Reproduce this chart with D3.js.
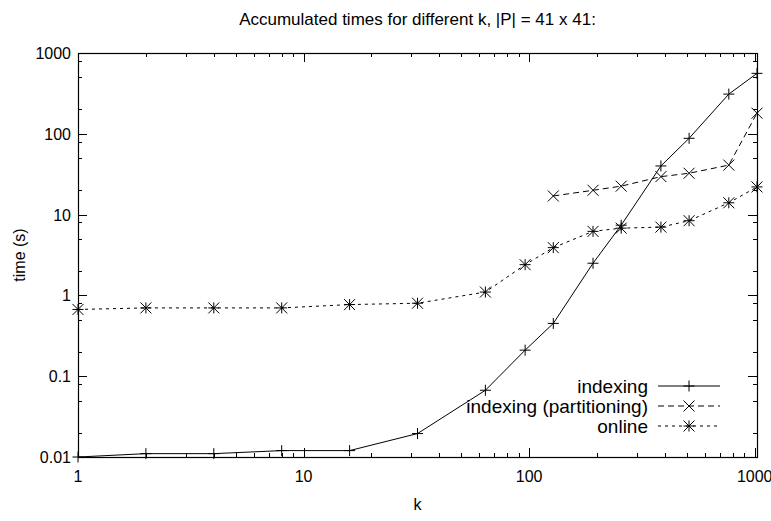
<!DOCTYPE html>
<html>
<head>
<meta charset="utf-8">
<script src="https://cdn.jsdelivr.net/npm/d3@7"></script>
<style>
body { margin: 0; background: #fff; }
text { font-family: "Liberation Sans", Arial, sans-serif; fill: #000; }
</style>
</head>
<body>
<svg id="mainSVG" width="771" height="521"></svg>
<script>
// k values on the x axis
var kAll = [1, 2, 4, 8, 16, 32, 64, 96, 128, 192, 256, 384, 512, 768, 1024];
var kPart = [128, 192, 256, 384, 512, 768, 1024];

// accumulated times (s)
var timeIndexing = [0.01, 0.011, 0.011, 0.012, 0.012, 0.0195, 0.067, 0.21, 0.45, 2.5, 7.4, 40, 88, 310, 560];
var timePartitioning = [17, 20, 22.5, 29.5, 32.5, 41, 180];
var timeOnline = [0.67, 0.70, 0.70, 0.70, 0.77, 0.80, 1.1, 2.4, 3.9, 6.2, 6.8, 7.0, 8.4, 14, 22];

var xTickValues = [1, 10, 100, 1000];
var yTickValues = [0.01, 0.1, 1, 10, 100, 1000];
var yTickLabels = ["0.01", "0.1", "1", "10", "100", "1000"];
var legendNames = ["indexing", "indexing (partitioning)", "online"];

var pLeft = 78, pRight = 757, pTop = 53, pBottom = 457;

var svg = d3.select("#mainSVG");

var x = d3.scaleLog().domain([1, 1024]).range([pLeft, pRight]);
var y = d3.scaleLog().domain([0.01, 1000]).range([pBottom, pTop]);

// minor ticks: 2..9 on x, 2,5,8 on y (as in the original)
var xMinor = [], yMinor = [];
for (var p = 0; p < 4; p++) {
  for (var m = 2; m <= 9; m++) {
    var v = m * Math.pow(10, p);
    if (v < 1024) xMinor.push(v);
  }
}
for (var q = -2; q < 3; q++) {
  [2, 5, 8].forEach(function(m) { yMinor.push(m * Math.pow(10, q)); });
}

var g = svg.append("g");

// bottom / top ticks
g.selectAll(".xmin").data(xMinor).enter().append("path")
  .attr("d", function(d) { var px = Math.round(x(d)) + 0.5;
    return "M" + px + "," + pBottom + "v-4M" + px + "," + pTop + "v4"; })
  .attr("stroke", "#000").attr("stroke-width", 1);
g.selectAll(".xmaj").data(xTickValues).enter().append("path")
  .attr("d", function(d) { var px = Math.round(x(d)) + 0.5;
    return "M" + px + "," + pBottom + "v-9M" + px + "," + pTop + "v9"; })
  .attr("stroke", "#000").attr("stroke-width", 1);

// left / right ticks
g.selectAll(".ymin").data(yMinor).enter().append("path")
  .attr("d", function(d) { var py = Math.round(y(d)) + 0.5;
    return "M" + pLeft + "," + py + "h4M" + pRight + "," + py + "h-4"; })
  .attr("stroke", "#000").attr("stroke-width", 1);
g.selectAll(".ymaj").data(yTickValues).enter().append("path")
  .attr("d", function(d) { var py = Math.round(y(d)) + 0.5;
    return "M" + pLeft + "," + py + "h9M" + pRight + "," + py + "h-9"; })
  .attr("stroke", "#000").attr("stroke-width", 1);

// tick labels
g.selectAll(".xl").data(xTickValues).enter().append("text")
  .attr("x", function(d) { return x(d); })
  .attr("y", pBottom + 25)
  .attr("font-size", "16")
  .attr("text-anchor", "middle")
  .text(function(d) { return d; });
g.selectAll(".yl").data(yTickValues).enter().append("text")
  .attr("x", pLeft - 7)
  .attr("y", function(d) { return y(d) + 6; })
  .attr("font-size", "16")
  .attr("text-anchor", "end")
  .text(function(d, i) { return yTickLabels[i]; });

// border
g.append("rect")
  .attr("x", pLeft + 0.5).attr("y", pTop + 0.5)
  .attr("width", pRight - pLeft).attr("height", pBottom - pTop)
  .attr("fill", "none").attr("stroke", "#000").attr("stroke-width", 1.2);

// titles
svg.append("text")
  .attr("x", (pLeft + pRight) / 2).attr("y", 25)
  .attr("font-size", "17").attr("text-anchor", "middle")
  .text("Accumulated times for different k, |P| = 41 x 41:");
svg.append("text")
  .attr("x", (pLeft + pRight) / 2).attr("y", 510)
  .attr("font-size", "16").attr("text-anchor", "middle")
  .text("k");
svg.append("text")
  .attr("transform", "translate(25," + ((pTop + pBottom) / 2) + ") rotate(-90)")
  .attr("font-size", "16").attr("text-anchor", "middle")
  .text("time (s)");

// marker shapes
function plusPath(cx, cy) { var s = 5.5;
  return "M" + (cx - s) + "," + cy + "h" + (2 * s) + "M" + cx + "," + (cy - s) + "v" + (2 * s); }
function crossPath(cx, cy) { var s = 5.5;
  return "M" + (cx - s) + "," + (cy - s) + "l" + (2 * s) + "," + (2 * s) +
         "M" + (cx - s) + "," + (cy + s) + "l" + (2 * s) + "," + (-2 * s); }
function starPath(cx, cy) { return plusPath(cx, cy) + crossPath(cx, cy); }

var series = [
  { name: legendNames[0], k: kAll, t: timeIndexing, dash: null, marker: plusPath },
  { name: legendNames[1], k: kPart, t: timePartitioning, dash: "6,4", marker: crossPath },
  { name: legendNames[2], k: kAll, t: timeOnline, dash: "3,4", marker: starPath }
];

var line = d3.line()
  .x(function(d) { return x(d[0]); })
  .y(function(d) { return y(d[1]); });

series.forEach(function(s, si) {
  var pts = s.k.map(function(k, i) { return [k, s.t[i]]; });
  svg.append("path")
    .datum(pts)
    .attr("d", line)
    .attr("fill", "none")
    .attr("stroke", "#000")
    .attr("stroke-width", 1)
    .attr("stroke-dasharray", s.dash);
  svg.append("g").selectAll("path").data(pts).enter().append("path")
    .attr("d", function(d) { return s.marker(x(d[0]), y(d[1])); })
    .attr("fill", "none")
    .attr("stroke", "#000")
    .attr("stroke-width", 1);

  // legend entry
  var ly = 386 + si * 20;
  svg.append("text")
    .attr("x", 648).attr("y", ly + 7)
    .attr("font-size", "19").attr("text-anchor", "end")
    .text(s.name);
  svg.append("path")
    .attr("d", "M658," + ly + "H720")
    .attr("stroke", "#000").attr("stroke-width", 1)
    .attr("stroke-dasharray", s.dash);
  svg.append("path")
    .attr("d", s.marker(689, ly))
    .attr("fill", "none").attr("stroke", "#000").attr("stroke-width", 1);
});
</script>
</body>
</html>
